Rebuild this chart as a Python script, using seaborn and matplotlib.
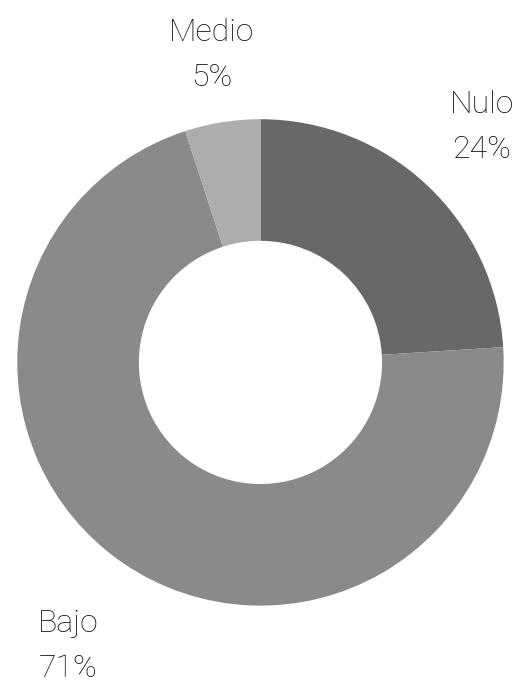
import numpy as np
import matplotlib.pyplot as plt
import seaborn as sns

categorias = ["Nulo", "Bajo", "Medio"]
porcentajes = [24, 71, 5]
colores = ["#686868", "#8a8a8a", "#adadad"]
dist_etiquetas = [1.33, 1.41, 1.28]

sns.set_theme(style="white")
plt.rcParams['font.family'] = ['Roboto', 'DejaVu Sans']

fig = plt.figure(figsize=(5.32, 6.89), dpi=100)
ax = fig.add_axes([0.0291, 0.121, 0.921, 0.706])

wedges, _ = ax.pie(porcentajes, colors=colores, startangle=90, counterclock=False,
                   radius=1, wedgeprops=dict(width=0.5, linewidth=0))

# etiquetas en dos lineas, centradas en la direccion de cada sector
for w, cat, p, d in zip(wedges, categorias, porcentajes, dist_etiquetas):
    ang = np.deg2rad((w.theta1 + w.theta2) / 2)
    ax.text(d * np.cos(ang), d * np.sin(ang), f"{cat}\n{p}%", ha="center", va="center",
            fontsize=23, fontweight="light", color="#111111", linespacing=1.7, clip_on=False)

ax.set_xlim(-1, 1)
ax.set_ylim(-1, 1)
ax.set_aspect("equal")
ax.axis("off")

fig.savefig("out.png", dpi=100)
